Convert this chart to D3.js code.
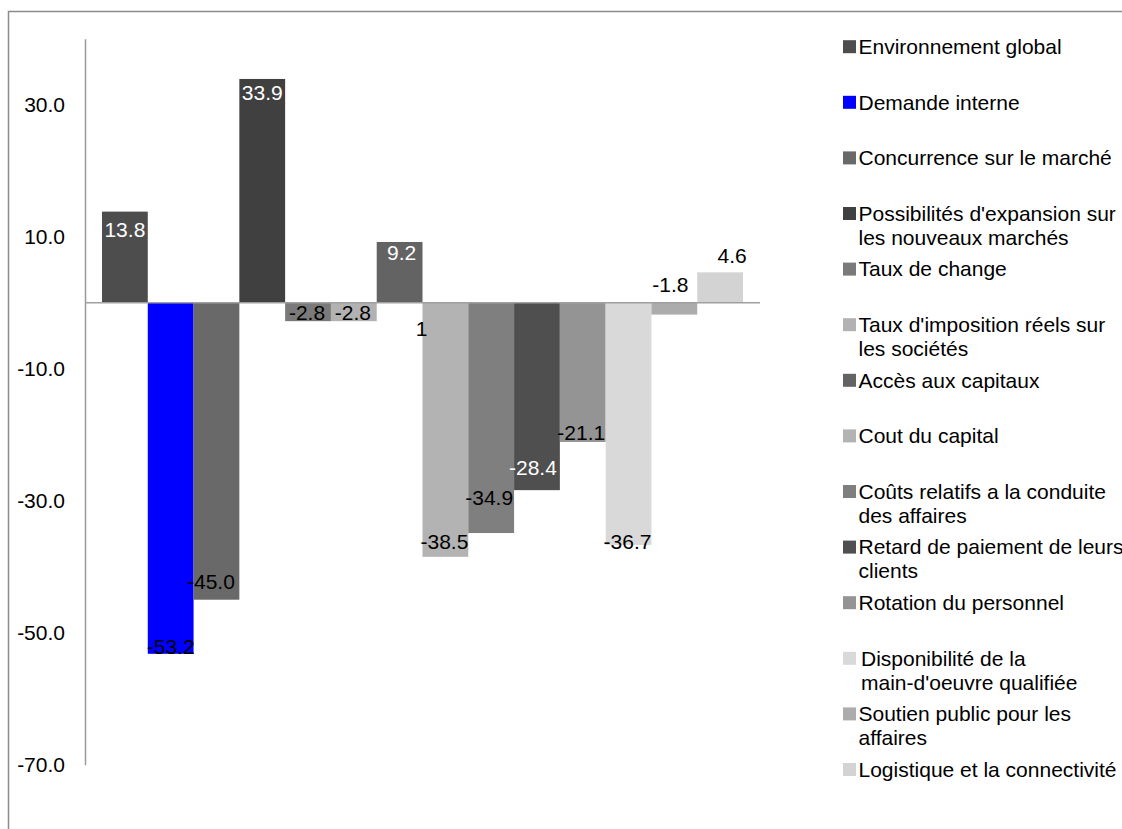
<!DOCTYPE html>
<html>
<head>
<meta charset="utf-8">
<script src="https://cdn.jsdelivr.net/npm/d3@7"></script>
<style>
  html, body { margin: 0; padding: 0; background: #fff; }
  svg text { font-family: "Liberation Sans", Arial, sans-serif; }
</style>
</head>
<body>
<svg id="chart" width="1122" height="829"></svg>
<script>
// ---- data ----
const categories = [""];
const seriesNames = [
  "Environnement global",
  "Demande interne",
  "Concurrence sur le marché",
  "Possibilités d'expansion sur\nles nouveaux marchés",
  "Taux de change",
  "Taux d'imposition réels sur\nles sociétés",
  "Accès aux capitaux",
  "Cout du capital",
  "Coûts relatifs a la conduite\ndes affaires",
  "Retard de paiement de leurs\nclients",
  "Rotation du personnel",
  "Disponibilité de la\nmain-d'oeuvre qualifiée",
  "Soutien public pour les\naffaires",
  "Logistique et la connectivité"
];
const values = [13.8, -53.2, -45.0, 33.9, -2.8, -2.8, 9.2, -38.5, -34.9, -28.4, -21.1, -36.7, -1.8, 4.6];
const tickValues = [30, 10, -10, -30, -50, -70];
const yDomain = [-70, 40];

// ---- styles / layout ----
const colors = ["#4d4d4d", "#0000ff", "#696969", "#404040", "#7a7a7a", "#b2b2b2", "#636363",
                "#b3b3b3", "#7f7f7f", "#4f4f4f", "#949494", "#d9d9d9", "#acacac", "#d3d3d3"];
// label offsets relative to bar centre / bar end (px), and colour
const labelDx = [0, 0, -5.5, 0, -1, -1, 2, -1, -2, -4, -1.5, -1, -4, 12];
const labelDy = [18, -7, -18, 14, -9, -9, 11, -15, -35, -22, -9, -3, -30, -17];
const labelFill = ["#fff", "#000", "#000", "#fff", "#000", "#000", "#fff", "#000", "#000", "#fff", "#000", "#000", "#000", "#000"];
const legendIndent = [0,0,0,0,0,0,0,0,0,0,0,2.5,0,0];

const svg = d3.select("#chart");
const FS = 21;
const fmt = v => v.toFixed(1);

// outer frame
svg.append("rect").attr("x", 8.5).attr("y", 11.5).attr("width", 1300).attr("height", 1000)
  .attr("fill", "none").attr("stroke", "#8c8c8c").attr("stroke-width", 1.5);

const y = d3.scaleLinear().domain(yDomain).range([764.7, 38.7]);
const x0 = d3.scaleBand().domain(categories).range([85, 760]).paddingInner(0).paddingOuter(0.0265);
const x1 = d3.scaleBand().domain(d3.range(values.length)).range([0, x0.bandwidth()]);

const g = svg.append("g");
const grp = g.selectAll("g.grp").data(categories).join("g")
  .attr("transform", d => `translate(${x0(d)},0)`);

grp.selectAll("rect").data(values.map((v, i) => ({v, i}))).join("rect")
  .attr("x", d => x1(d.i))
  .attr("width", x1.bandwidth())
  .attr("y", d => y(Math.max(0, d.v)))
  .attr("height", d => Math.abs(y(d.v) - y(0)))
  .attr("fill", d => colors[d.i]);

// axis
const axis = d3.axisLeft(y).tickValues(tickValues).tickSize(0).tickSizeOuter(0).tickPadding(20)
  .tickFormat(fmt);
const ag = svg.append("g").attr("transform", "translate(85,0)").call(axis);
ag.select(".domain").attr("stroke", "#9a9a9a").attr("stroke-width", 1.5);
ag.selectAll("text").attr("font-size", FS).attr("fill", "#000")
  .attr("font-family", "'Liberation Sans', Arial, sans-serif");

// zero line
svg.append("line").attr("x1", x0.range()[0]).attr("x2", x0.range()[1])
  .attr("y1", y(0)).attr("y2", y(0)).attr("stroke", "#a0a0a0").attr("stroke-width", 1.5);

// value labels
grp.selectAll("text.val").data(values.map((v, i) => ({v, i}))).join("text")
  .attr("class", "val")
  .attr("x", d => x1(d.i) + x1.bandwidth() / 2 + labelDx[d.i])
  .attr("y", d => y(d.v) + labelDy[d.i])
  .attr("dy", "0.35em")
  .attr("text-anchor", "middle")
  .attr("font-size", FS)
  .attr("fill", d => labelFill[d.i])
  .text(d => fmt(d.v));

// stray label "1"
grp.append("text")
  .attr("x", x1(7) - 1)
  .attr("y", y(-4.0))
  .attr("dy", "0.35em")
  .attr("text-anchor", "middle")
  .attr("font-size", FS)
  .attr("fill", "#000")
  .text("1");

// legend
const legY0 = 46.7, legStep = 55.6, lineH = 24;
const leg = svg.append("g");
seriesNames.forEach((name, i) => {
  const cy = legY0 + legStep * i;
  leg.append("rect").attr("x", 843).attr("y", cy - 6.5).attr("width", 13).attr("height", 13)
    .attr("fill", colors[i]);
  const t = leg.append("text").attr("font-size", FS).attr("fill", "#000");
  name.split("\n").forEach((ln, k) => {
    t.append("tspan").attr("x", 858.5 + legendIndent[i]).attr("y", cy + k * lineH)
      .attr("dy", "0.35em").text(ln);
  });
});
</script>
</body>
</html>
